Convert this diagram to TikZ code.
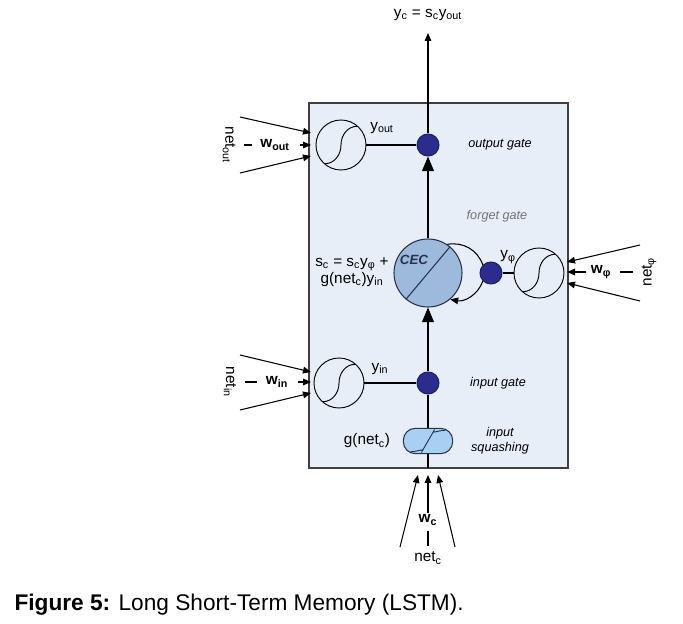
\documentclass[tikz,border=0pt]{standalone}
\usepackage{fontspec}
\setmainfont{Liberation Sans}
\usetikzlibrary{arrows.meta}

\definecolor{cellbg}{HTML}{E8EEF8}
\definecolor{cecfill}{HTML}{9DBADD}
\definecolor{squashfill}{HTML}{A9D0F3}
\definecolor{gatefill}{HTML}{2C2C8E}
\definecolor{darkline}{HTML}{26334F}

\begin{document}
\begin{tikzpicture}[x=0.75pt,y=-0.75pt,
  lbl/.style={inner sep=1pt,font=\fontsize{11.5}{13}\selectfont},
  wlbl/.style={inner sep=1pt,font=\fontsize{11.5}{13}\selectfont\bfseries},
  gatetxt/.style={inner sep=1pt,font=\fontsize{9.5}{11}\selectfont\itshape},
  squash/.style={circle,draw,line width=0.7pt,minimum size=37.5pt,inner sep=0pt,
    path picture={\draw[line width=0.7pt]
      ([shift={(-12pt,-14pt)}]path picture bounding box.center)
      to[out=0,in=-90] (path picture bounding box.center)
      to[out=90,in=180] ([shift={(12pt,14pt)}]path picture bounding box.center);}},
  gdot/.style={circle,fill=gatefill,draw=gatefill!70!black,minimum size=16.5pt,inner sep=0pt},
  bigarr/.style={-{Triangle[length=11pt,width=9pt]}},
  inarr/.style={-{Triangle[length=6pt,width=5pt]}},
  every path/.style={line width=0.8pt}]

  \useasboundingbox (0,0) rectangle (683,624);

  % celula
  \draw[fill=cellbg,draw=black!75,line width=1pt] (309,103) rectangle (568,468);
  \coordinate (celltop) at (428,103);
  \coordinate (cellbot) at (428,468);
  \coordinate (yc) at (428,33);
  \node[lbl] (yclbl) at (428,15) {y\textsubscript{c} = s\textsubscript{c}y\textsubscript{out}};

  % CEC
  \node[circle,draw=darkline,fill=cecfill,line width=0.8pt,minimum size=51pt,inner sep=0pt] (cec) at (428,273) {};
  \draw[darkline] (cec.230) -- (cec.50);
  \node[inner sep=0pt,font=\fontsize{10}{12}\selectfont\bfseries\itshape,text=darkline] (cectxt) at (414,260) {CEC};
  \node[lbl,align=center] (sclbl) at (352,272) {s\textsubscript{c} = s\textsubscript{c}y\textsubscript{φ} +\\g(net\textsubscript{c})y\textsubscript{in}};

  % poarta de ieșire
  \node[gdot] (dout) at (428,145) {};
  \node[squash] (sqout) at (341,145) {};
  \node[lbl] (yout) at (382,128) {y\textsubscript{out}};
  \node[gatetxt] (tout) at (500,145) {output gate};
  \node[lbl,rotate=-90] (netout) at (229,145) {net\textsubscript{out}};
  \node[wlbl] (wout) at (275,145) {w\textsubscript{out}};
  \coordinate (aout1) at (240,117);
  \coordinate (aout3) at (240,173);
  \coordinate (bout1) at (311,133);
  \coordinate (bout2) at (311,145);
  \coordinate (bout3) at (311,156);

  % poarta de uitare
  \node[gdot] (dfor) at (491,273) {};
  \node[squash] (sqfor) at (539,273) {};
  \node[lbl] (yfor) at (508,257) {y\textsubscript{φ}};
  \node[gatetxt,text=black!55] (tfor) at (497,216) {forget gate};
  \node[lbl,rotate=90] (netfor) at (649,272) {net\textsubscript{φ}};
  \node[wlbl] (wfor) at (601,272) {w\textsubscript{φ}};
  \coordinate (afor1) at (640,245);
  \coordinate (afor3) at (640,301);
  \coordinate (bfor1) at (567,262);
  \coordinate (bfor2) at (567,272);
  \coordinate (bfor3) at (567,283);

  % poarta de intrare
  \node[gdot] (din) at (428,383) {};
  \node[squash] (sqin) at (339,383) {};
  \node[lbl] (yin) at (380,369) {y\textsubscript{in}};
  \node[gatetxt] (tin) at (498,383) {input gate};
  \node[lbl,rotate=-90] (netin) at (230,382) {net\textsubscript{in}};
  \node[wlbl] (win) at (277,382) {w\textsubscript{in}};
  \coordinate (ain1) at (240,355);
  \coordinate (ain3) at (240,410);
  \coordinate (bin1) at (311,372);
  \coordinate (bin2) at (311,382);
  \coordinate (bin3) at (311,393);

  % squashing
  \draw (din) -- (cellbot);
  \node[draw=darkline,fill=squashfill,line width=0.8pt,rounded corners=9pt,
    minimum width=37pt,minimum height=19pt,inner sep=0pt,
    path picture={\draw[darkline,line width=0.7pt]
      ([shift={(-13pt,-8pt)}]path picture bounding box.center)
      to[out=0,in=-120] (path picture bounding box.center)
      to[out=60,in=180] ([shift={(13pt,8pt)}]path picture bounding box.center);}] (gsq) at (428,441) {};
  \node[lbl] (glbl) at (367,441) {g(net\textsubscript{c})};
  \node[gatetxt,align=center] (tsq) at (500,441) {input\\squashing};
  \node[wlbl] (wc) at (428,520) {w\textsubscript{c}};
  \node[lbl] (netc) at (428,558) {net\textsubscript{c}};
  \coordinate (ac1) at (400,547);
  \coordinate (ac3) at (455,547);
  \coordinate (bc1) at (418,475);
  \coordinate (bc2) at (428,475);
  \coordinate (bc3) at (438,475);

  % linia principală
  \draw[bigarr] (din) -- (cec);
  \draw[bigarr] (cec) -- (dout);
  \draw (dout) -- (celltop);
  \draw[inarr] (celltop) -- (yc);
  \draw (sqout) -- (dout);
  \draw (sqin) -- (din);
  \draw (dfor) -- (sqfor);
  \draw (cec.56) to[out=10,in=110] (dfor.north west);
  \draw[inarr] (dfor.south west) to[out=-110,in=-10] (cec.-50);

  % intrări
  \draw[inarr] (aout1) -- (bout1);
  \draw[inarr] (aout3) -- (bout3);
  \draw[shorten <=5pt,shorten >=5pt] (netout) -- (wout);
  \draw[inarr,shorten <=6pt] (wout) -- (bout2);
  \draw[inarr] (afor1) -- (bfor1);
  \draw[inarr] (afor3) -- (bfor3);
  \draw[shorten <=5pt,shorten >=5pt] (netfor) -- (wfor);
  \draw[inarr,shorten <=2pt] (wfor) -- (bfor2);
  \draw[inarr] (ain1) -- (bin1);
  \draw[inarr] (ain3) -- (bin3);
  \draw[shorten <=5pt,shorten >=5pt] (netin) -- (win);
  \draw[inarr,shorten <=6pt] (win) -- (bin2);
  \draw[inarr] (ac1) -- (bc1);
  \draw[inarr] (ac3) -- (bc3);
  \draw[inarr] (wc) -- (bc2);
  \draw[shorten <=3pt,shorten >=3pt] (netc) -- (wc);

  % legenda
  \node[anchor=west,inner sep=0pt,font=\fontsize{17}{20}\selectfont] (caption) at (14,605)
    {\textbf{Figure 5:} Long Short-Term Memory (LSTM).};
\end{tikzpicture}
\end{document}
